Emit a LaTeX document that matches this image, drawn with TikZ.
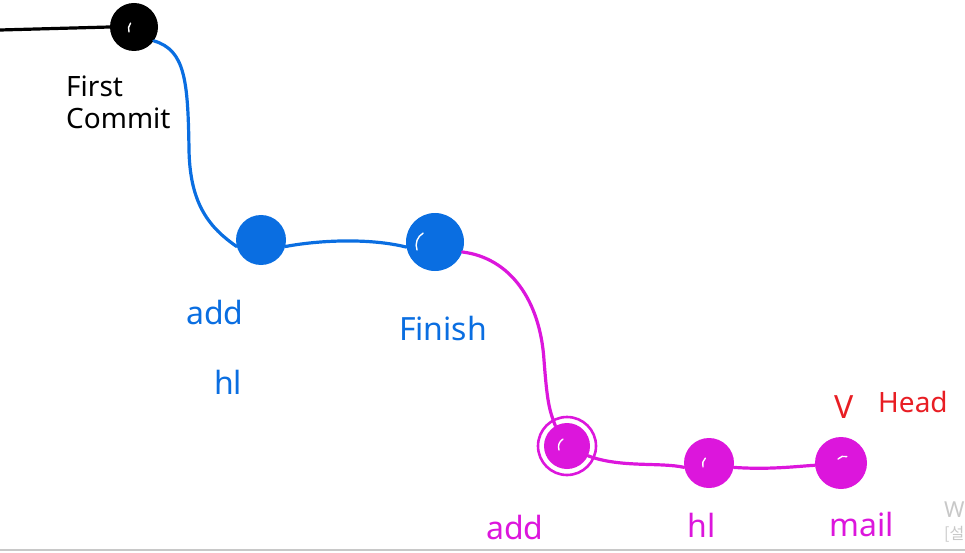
\documentclass[tikz,border=0pt]{standalone}
\usepackage{fontspec}
\setmainfont{Noto Sans}
\newfontfamily\krfont{Noto Sans CJK KR}
\definecolor{gblue}{RGB}{10,110,225}
\definecolor{gmag}{RGB}{220,22,220}
\definecolor{gred}{RGB}{232,30,36}
\definecolor{ggray}{RGB}{200,200,200}
\begin{document}
\begin{tikzpicture}[x=1pt,y=-1pt,
  commit/.style={circle,inner sep=0pt,minimum size=#1},
  lbl/.style={font=\fontsize{32}{36}\selectfont,inner sep=0pt,align=center},
  wire/.style={line width=3.2pt,line cap=round},
  hilite/.style={white,line width=1.4pt,line cap=round}]
\useasboundingbox (0,0) rectangle (965,553);
\clip (0,0) rectangle (965,553);
% commits
\node[commit=48pt,fill=black] (c1) at (134,27) {};
\node[commit=50pt,fill=gblue] (a1) at (261,240) {};
\node[commit=58pt,fill=gblue] (f1) at (435,242) {};
\node[commit=46pt,fill=gmag] (a2) at (567,446) {};
\node[commit=50pt,fill=gmag] (h2) at (709,463) {};
\node[commit=52pt,fill=gmag] (m2) at (841,463) {};
% ring around second add
\draw[gmag,line width=2.6pt] (a2.center) circle[radius=29pt];
% highlights (white scribbles)
\draw[hilite] ([shift={(-18,8)}]f1.center) arc[start angle=200,end angle=120,radius=14pt];
\draw[hilite] ([shift={(-5,5)}]c1.center) arc[start angle=200,end angle=140,radius=9pt];
\draw[hilite] ([shift={(-8,4)}]a2.center) arc[start angle=200,end angle=120,radius=9pt];
\draw[hilite] ([shift={(-6,4)}]h2.center) arc[start angle=200,end angle=130,radius=8pt];
\draw[hilite] ([shift={(-3,-4)}]m2.center) arc[start angle=140,end angle=70,radius=8pt];
% connectors
\coordinate (s0) at (0,30);
\draw[wire,black] (s0) -- (c1.west);
\draw[wire,gblue] (c1.-35) .. controls (185,50) and (188,80) .. (189,150)
  .. controls (190,205) and (210,228) .. (a1.-165);
\draw[wire,gblue] (a1.-15) .. controls (320,240) and (370,238) .. (f1.-170);
\draw[wire,gmag] (f1.-20) .. controls (510,258) and (540,300) .. (544,360)
  .. controls (547,400) and (549,410) .. (a2.120);
\draw[wire,gmag] (a2.-25) .. controls (620,468) and (660,462) .. (h2.-170);
\draw[wire,gmag] (h2.-10) .. controls (770,470) and (800,466) .. (m2.-175);
% labels
\node[lbl,font=\fontsize{28}{32}\selectfont,align=left,anchor=north west] (tFirst) at (66,76) {First\\[0pt]Commit};
\node[lbl,text=gblue,anchor=north west] (tAdd1) at (186,300) {add};
\node[lbl,text=gblue,anchor=north west] (tHl1) at (214,370) {hl};
\node[lbl,text=gblue] (tFin) at (443,328) {Finish};
\node[lbl,text=gmag] (tAdd2) at (515,527) {add};
\node[lbl,text=gmag] (tHl2) at (702,525) {hl};
\node[lbl,text=gmag] (tMail) at (862,524) {mail};
\node[lbl,text=gred,font=\fontsize{32}{36}\selectfont,anchor=west] (tV) at (834,407) {V};
\node[lbl,text=gred,font=\fontsize{28}{32}\selectfont,anchor=west] (tHead) at (878,402) {Head};
% window edge
\coordinate (e0) at (0,550);
\coordinate (e1) at (965,550);
\draw[ggray,line width=1.5pt] (e0) -- (e1);
\node[text=ggray,font=\fontsize{22}{24}\selectfont,anchor=west,inner sep=0pt] (tW) at (944,510) {W};
\node[text=ggray,font=\krfont\fontsize{16}{18}\selectfont,anchor=west,inner sep=0pt] (tK) at (944,534) {[설};
\end{tikzpicture}
\end{document}
